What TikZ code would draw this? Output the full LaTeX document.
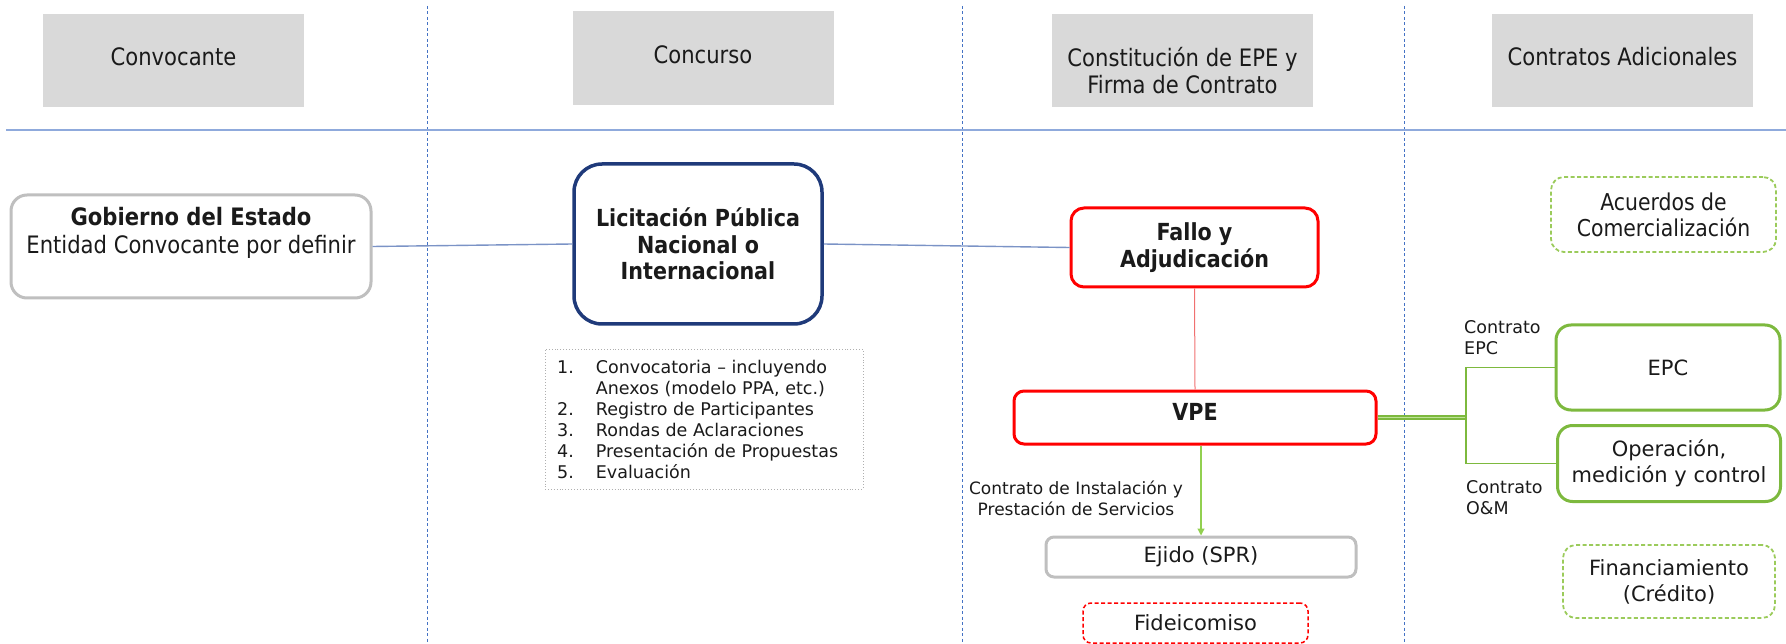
\documentclass[tikz,border=0pt]{standalone}
\usepackage{fontspec}
\setmainfont{DejaVu Sans}
\newfontfamily\tah[FakeStretch=0.88]{DejaVu Sans}
\usetikzlibrary{arrows.meta}
\definecolor{hdrgray}{HTML}{D9D9D9}
\definecolor{hline}{HTML}{8FAADC}
\definecolor{vline}{HTML}{4472C4}
\definecolor{conn}{HTML}{7B93C6}
\definecolor{boxgray}{HTML}{BFBFBF}
\definecolor{navy}{HTML}{1F3A7A}
\definecolor{myred}{HTML}{FF0000}
\definecolor{redthin}{HTML}{F07070}
\definecolor{mygreen}{HTML}{7DB93E}
\definecolor{greenlt}{HTML}{9BCB5B}
\definecolor{arrowgreen}{HTML}{92D050}
\definecolor{listgray}{HTML}{AFAFAF}
\definecolor{txt}{HTML}{1A1A1A}
\begin{document}
\begin{tikzpicture}[x=1pt,y=-1pt,
  every node/.style={text=txt},
  hdr/.style={fill=hdrgray, minimum width=261pt, minimum height=93pt, inner sep=0pt},
  htext/.style={font=\tah\fontsize{24}{27}\selectfont, align=center, inner sep=0pt},
  vdash/.style={vline, line width=0.9pt, dash pattern=on 3pt off 2.5pt},
  bconn/.style={conn, line width=1.4pt},
  rbox/.style={draw=myred, line width=3pt, rounded corners=13pt, inner sep=0pt,
    font=\tah\bfseries\fontsize{23.5}{27}\selectfont, align=center},
  gbox/.style={draw=mygreen, line width=3pt, rounded corners=15pt, inner sep=0pt,
    font=\fontsize{21}{26}\selectfont, align=center},
  gdbox/.style={draw=greenlt, line width=1.8pt, dash pattern=on 4pt off 2.5pt, rounded corners=13pt, inner sep=0pt, align=center},
  small/.style={font=\fontsize{17.5}{21}\selectfont, inner sep=0pt}
]
\useasboundingbox (0,0) rectangle (1786,644);
% column separators
\draw[vdash] (427,6) -- (427,644);
\draw[vdash] (962,6) -- (962,644);
\draw[vdash] (1404,6) -- (1404,644);
\draw[hline, line width=2pt] (6,130) -- (1786,130);
% headers
\node[hdr] (h1) at (173.5,60.5) {};
\node[htext] (h1t) at (173.5,57) {Convocante};
\node[hdr, minimum height=94pt] (h2) at (703,58) {};
\node[htext] (h2t) at (703,55) {Concurso};
\node[hdr] (h3) at (1182.5,60.5) {};
\node[htext] (h3t) at (1182.5,70.5) {Constitución de EPE y\\Firma de Contrato};
\node[hdr] (h4) at (1622.5,60.5) {};
\node[htext] (h4t) at (1622.5,57) {Contratos Adicionales};
% main nodes
\node[draw=boxgray, line width=3pt, rounded corners=16pt, minimum width=360pt, minimum height=103pt] (gob) at (191,246.5) {};
\node[font=\tah\fontsize{24}{28}\selectfont, align=center, inner sep=0pt] (gobt) at (191,233) {\textbf{Gobierno del Estado}\\Entidad Convocante por definir};
\node[draw=navy, line width=3.5pt, rounded corners=28pt, minimum width=248pt, minimum height=160pt, inner sep=0pt,
  font=\tah\bfseries\fontsize{23.5}{26.5}\selectfont, align=center] (lic) at (698,244) {Licitación Pública\\Nacional o\\Internacional};
\node[rbox, minimum width=247pt, minimum height=79pt] (fallo) at (1194.5,247.5) {Fallo y\\Adjudicación};
\node[rbox, rounded corners=10pt, minimum width=362pt, minimum height=53pt, text depth=12pt] (vpe) at (1195,417.5) {VPE};
\node[draw=boxgray, line width=3pt, rounded corners=8pt, minimum width=310pt, minimum height=40pt, inner sep=0pt,
  font=\fontsize{21}{24}\selectfont] (ejido) at (1201,557) {Ejido (SPR)};
\node[draw=myred, line width=1.5pt, dash pattern=on 4pt off 2.5pt, rounded corners=8pt, minimum width=225pt, minimum height=40pt, inner sep=0pt,
  font=\fontsize{21}{24}\selectfont] (fide) at (1195.5,623) {Fideicomiso};
% list
\node[draw=listgray, line width=0.9pt, dotted, minimum width=318pt, minimum height=140pt, inner sep=0pt] (lst) at (704,419) {};
\node[small, anchor=north west] (lstt) at (557,358.5) {\begin{tabular}{@{}l@{\hspace{22pt}}l@{}}
1. & Convocatoria – incluyendo\\
   & Anexos (modelo PPA, etc.)\\
2. & Registro de Participantes\\
3. & Rondas de Aclaraciones\\
4. & Presentación de Propuestas\\
5. & Evaluación
\end{tabular}};
% right column
\node[gdbox, minimum width=225pt, minimum height=75pt, font=\tah\fontsize{23.2}{26}\selectfont] (acu) at (1663.5,214.5) {Acuerdos de\\Comercialización};
\node[gbox, minimum width=224pt, minimum height=85pt] (epc) at (1668,367.5) {EPC};
\node[gbox, minimum width=223pt, minimum height=76pt] (op) at (1669,463.5) {Operación,\\medición y control};
\node[gdbox, minimum width=212pt, minimum height=73pt, font=\fontsize{21}{26}\selectfont] (fin) at (1669,581.5) {Financiamiento\\(Crédito)};
% labels
\node[small, font=\fontsize{17}{21}\selectfont, align=center] (lblins) at (1076,498) {Contrato de Instalación y\\Prestación de Servicios};
\node[small, align=left, anchor=west] (lblepc) at (1464,338) {Contrato\\EPC};
\node[small, align=left, anchor=west] (lblom) at (1466,497.5) {Contrato\\O\&M};
% connectors
\draw[bconn] (gob.east) -- (lic.west);
\draw[bconn] (lic.east) -- (fallo.west);
\draw[redthin, line width=1pt] (fallo.south) -- (vpe.north);
\draw[arrowgreen, line width=1.2pt, -{Triangle[width=7pt,length=7pt]}] (vpe.south -| ejido.north) -- (ejido.north);
\coordinate (jn) at (1466,417.5);
\draw[mygreen, line width=1.4pt, double=arrowgreen!60, double distance=1.6pt] (vpe.east) -- (jn);
\draw[mygreen, line width=1.8pt] (epc.west) -| (jn) |- (op.west);
\end{tikzpicture}
\end{document}
